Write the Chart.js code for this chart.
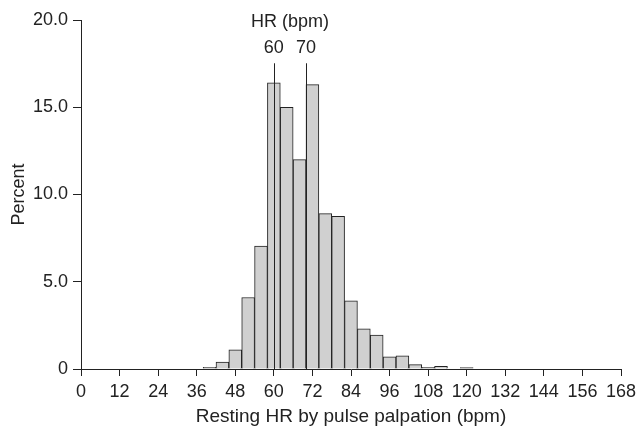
<!DOCTYPE html>
<html>
<head>
<meta charset="utf-8">
<script src="https://cdn.jsdelivr.net/npm/chart.js@4/dist/chart.umd.min.js"></script>
<style>
html,body{margin:0;padding:0;background:#fff;}
#wrap{width:642px;height:426px;position:relative;}
</style>
</head>
<body>
<div id="wrap"><canvas id="c" width="642" height="426"></canvas></div>
<script>
// Bin centres (bpm), 4-bpm wide bins
const binCenters = [40, 44, 48, 52, 56, 60, 64, 68, 72, 76, 80, 84, 88, 92, 96, 100, 104, 108, 112, 116, 120];
// Percent of subjects in each bin
const percents   = [0.1, 0.4, 1.1, 4.1, 7.05, 16.4, 15.0, 12.0, 16.3, 8.9, 8.75, 3.9, 2.3, 1.95, 0.7, 0.75, 0.25, 0.1, 0.15, 0, 0.08];
// Reference markers
const markerValues = [60, 70];
const markerLabels = ["60", "70"];
const markerTitle = "HR (bpm)";
const xTitle = "Resting HR by pulse palpation (bpm)";
const yTitle = "Percent";

const FONT = "Arial, 'Liberation Sans', sans-serif";
const INK = "#222";

const markerPlugin = {
  id: 'markers',
  afterDatasetsDraw(chart) {
    const ctx = chart.ctx, xs = chart.scales.x, ys = chart.scales.y;
    ctx.save();
    ctx.strokeStyle = INK;
    ctx.lineWidth = 1;
    markerValues.forEach((v) => {
      const px = Math.round(xs.getPixelForValue(v)) + 0.5;
      ctx.beginPath();
      ctx.moveTo(px, ys.getPixelForValue(17.52));
      ctx.lineTo(px, ys.getPixelForValue(0));
      ctx.stroke();
    });
    ctx.fillStyle = INK;
    ctx.font = "18px " + FONT;
    ctx.textAlign = 'center';
    ctx.textBaseline = 'alphabetic';
    markerValues.forEach((v, i) => {
      ctx.fillText(markerLabels[i], xs.getPixelForValue(v), ys.getPixelForValue(18.1));
    });
    const mid = (markerValues[0] + markerValues[1]) / 2;
    ctx.fillText(markerTitle, xs.getPixelForValue(mid), ys.getPixelForValue(19.59));
    ctx.restore();
  }
};

new Chart(document.getElementById('c'), {
  type: 'bar',
  data: {
    datasets: [{
      data: binCenters.map((x, i) => ({x: x, y: percents[i]})),
      backgroundColor: '#d0d0d0',
      borderColor: INK,
      borderWidth: 1,
      borderSkipped: 'bottom',
      barPercentage: 1.0,
      categoryPercentage: 1.0
    }]
  },
  options: {
    responsive: false,
    animation: false,
    devicePixelRatio: 1,
    layout: { padding: { top: 20, right: 21, left: 0, bottom: 0 } },
    plugins: { legend: { display: false }, tooltip: { enabled: false } },
    scales: {
      x: {
        type: 'linear',
        min: 0, max: 168,
        offset: false,
        afterFit(s) { s.height = 57; },
        ticks: { stepSize: 12, color: INK, font: { family: FONT, size: 18 }, padding: 5, maxRotation: 0, autoSkip: false },
        grid: { display: true, offset: false, drawOnChartArea: false, tickLength: 7, color: INK },
        border: { display: true, color: INK },
        title: { display: true, text: xTitle, color: INK, font: { family: FONT, size: 19 }, padding: { top: 0, bottom: -2 } }
      },
      y: {
        min: 0, max: 20,
        afterFit(s) { s.width = 81; },
        ticks: { stepSize: 5, color: INK, font: { family: FONT, size: 18 }, padding: 5,
          callback: (v) => v === 0 ? "0" : Number(v).toFixed(1) },
        grid: { display: true, drawOnChartArea: false, tickLength: 8, color: INK },
        border: { display: true, color: INK },
        title: { display: true, text: yTitle, color: INK, font: { family: FONT, size: 18 }, padding: { top: 8, bottom: 0 } }
      }
    }
  },
  plugins: [markerPlugin]
});
</script>
</body>
</html>
